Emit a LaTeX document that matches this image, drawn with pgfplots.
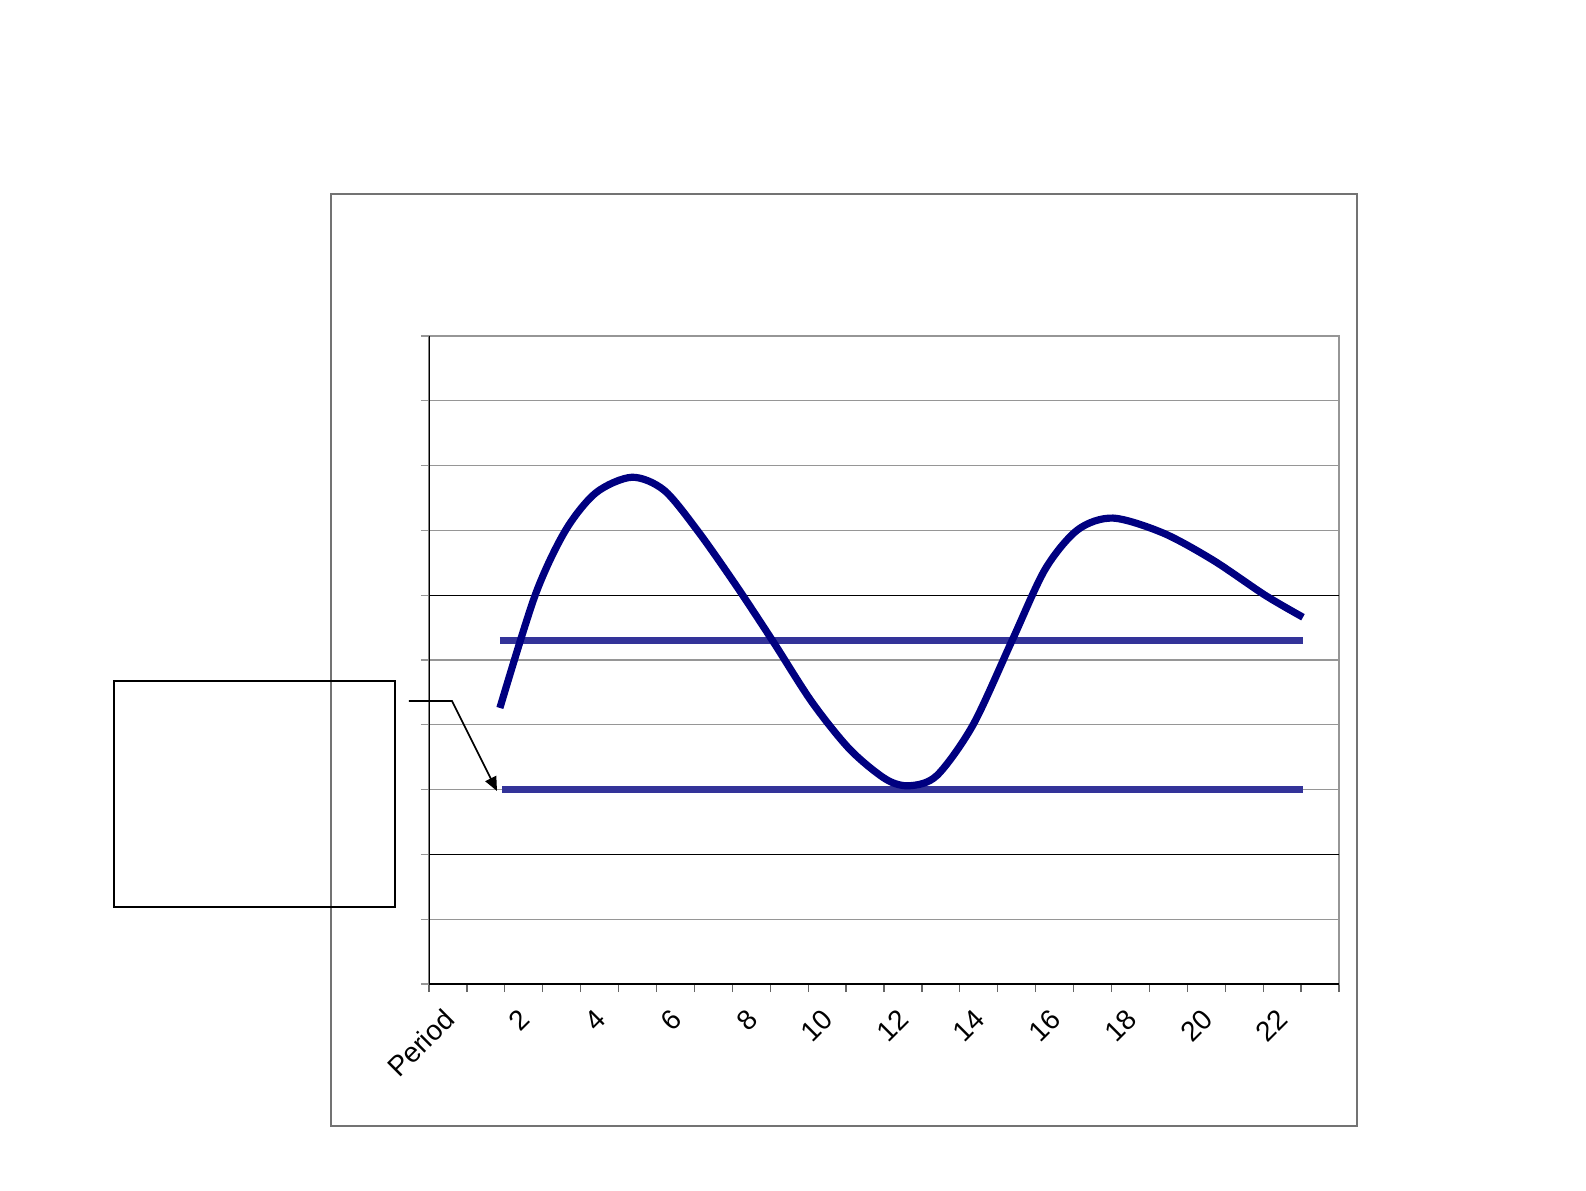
\documentclass[border=0pt]{standalone}
\usepackage{fontspec}
\setmainfont{Liberation Sans}
\usepackage{pgfplots}
\pgfplotsset{compat=1.18}
\usetikzlibrary{arrows.meta}

\definecolor{navy}{RGB}{0,0,128}
\definecolor{limitblue}{RGB}{51,51,153}
\definecolor{gridgray}{RGB}{150,150,150}

\begin{document}
\begin{tikzpicture}
  % page size: 1586 x 1190 px at 0.5pt per px, axis origin at px (429,984)
  \path (-214.5pt,-103pt) rectangle (578.5pt,492pt);
  % chart area frame
  \draw[gray!90!black, line width=0.9pt] (-49pt,-71pt) rectangle (464pt,395pt);

  \begin{axis}[
    at={(0pt,0pt)}, anchor=south west,
    scale only axis,
    width=455pt, height=324pt,
    xmin=0, xmax=24,
    ymin=0, ymax=10,
    xtick={0.5,2.5,...,22.5},
    xticklabels={Period,2,4,6,8,10,12,14,16,18,20,22},
    minor xtick={0,1,...,24},
    ytick={0,1,...,10},
    yticklabels={},
    xtick pos=bottom,
    ytick pos=left,
    tick align=outside,
    major tick length=4pt,
    minor tick length=4pt,
    major x tick style={draw=none},
    minor x tick style={gray!80!black, line width=0.6pt},
    y tick style={gridgray, line width=0.6pt},
    ymajorgrids=true,
    grid style={gridgray, line width=0.6pt},
    extra y ticks={2,6},
    extra y tick labels={},
    extra y tick style={grid style={black, line width=0.6pt}},
    axis line style={gridgray, line width=1pt},
    xticklabel style={xshift=-3pt, yshift=-6pt, rotate=45,
      anchor=north east, inner sep=1pt,
      font=\fontsize{14}{16}\selectfont},
    /pgf/number format/assume math mode=true,
  ]
    % upper limit
    \addplot[limitblue, line width=3.3pt] coordinates {(1.87,5.30) (23.05,5.30)};
    % lower limit
    \addplot[limitblue, line width=3.3pt] coordinates {(1.93,3.00) (23.05,3.00)};
    % process curve
    \addplot[navy, line width=3.6pt, smooth] coordinates {
      (1.87,4.26) (2.80,6.00) (3.59,6.99) (4.40,7.58)
      (5.35,7.82) (6.20,7.62) (7.09,6.99) (8.10,6.15) (9.07,5.29)
      (10.10,4.35) (11.10,3.62) (12.05,3.16) (12.68,3.06) (13.40,3.22)
      (14.35,4.00) (15.37,5.29) (16.25,6.40) (17.11,7.01) (18.04,7.19)
      (19.36,6.96) (20.68,6.54) (22.05,6.00) (23.05,5.66)
    };
    \draw[black, line width=1pt] (rel axis cs:0,0) -- (rel axis cs:0,1);
    \draw[black, line width=1pt] (rel axis cs:0,0) -- (rel axis cs:1,0);
  \end{axis}

  % callout box and connector
  \draw[black, line width=1pt] (-157.5pt,38.5pt) rectangle (-17pt,151.5pt);
  \draw[black, line width=0.8pt, -{Triangle[length=7pt, width=6pt]}]
    (-10pt,141.5pt) -- (11.5pt,141.5pt) -- (34pt,96.5pt);
\end{tikzpicture}
\end{document}
